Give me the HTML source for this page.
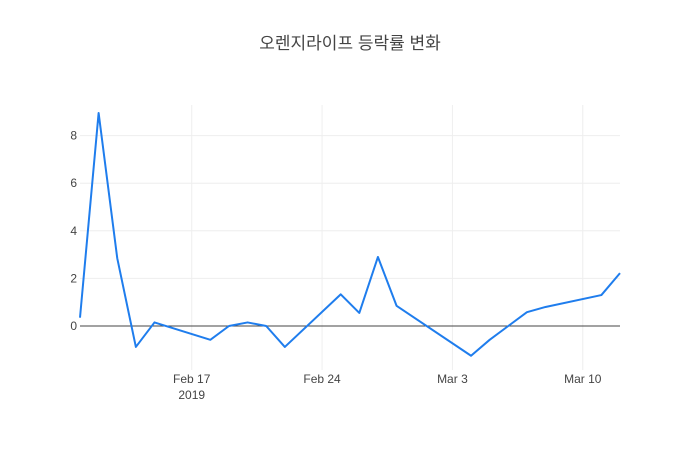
<!DOCTYPE html>
<html><head><meta charset="utf-8"><style>
body{margin:0;background:#fff;}
svg{display:block;font-family:"Liberation Sans","Noto Sans CJK KR",sans-serif;}
</style></head><body>
<svg id="chart" width="700" height="450">
<text x="350" y="49" text-anchor="middle" font-size="17" fill="#444">오렌지라이프 등락률 변화</text>
<g id="grid"></g><g id="axes"></g><g id="series"></g>
</svg>
<script>
const dates=["2019-02-11","2019-02-12","2019-02-13","2019-02-14","2019-02-15","2019-02-18","2019-02-19","2019-02-20","2019-02-21","2019-02-22","2019-02-25","2019-02-26","2019-02-27","2019-02-28","2019-03-04","2019-03-05","2019-03-06","2019-03-07","2019-03-08","2019-03-11","2019-03-12"];
const values=[0.35,8.95,2.85,-0.88,0.15,-0.58,0,0.15,0,-0.88,1.33,0.55,2.9,0.85,-1.25,-0.58,0,0.58,0.8,1.3,2.22];
const yTicks=[0,2,4,6,8];
const xTicks=["2019-02-17","2019-02-24","2019-03-03","2019-03-10"];
const xTickLabels=["Feb 17","Feb 24","Mar 3","Mar 10"];
const NS="http://www.w3.org/2000/svg";
const d0=Date.parse("2019-02-11"),d1=Date.parse("2019-03-12");
function xs(d){return 80+(Date.parse(d)-d0)/(d1-d0)*540;}
function ys(v){return 326-v*23.8;}
function mk(t,a,p){const e=document.createElementNS(NS,t);for(const k in a)e.setAttribute(k,a[k]);p.appendChild(e);return e;}
const grid=document.getElementById('grid'),axes=document.getElementById('axes'),series=document.getElementById('series');
yTicks.forEach(v=>{
 if(v!==0){const l=mk('line',{x1:80,x2:620,y1:ys(v),y2:ys(v),stroke:'#eee'},grid);
 
 }
 const t=mk('text',{x:77,y:ys(v)+4,'text-anchor':'end','font-size':12,fill:'#444'},axes);t.textContent=v;
 
 
});
xTicks.forEach((d,i)=>{
 const l=mk('line',{x1:xs(d),x2:xs(d),y1:105,y2:370,stroke:'#eee'},grid);
 
 
 const t=mk('text',{x:xs(d),y:383,'text-anchor':'middle','font-size':12,fill:'#444'},axes);t.textContent=xTickLabels[i];
 
 
});
const yr=mk('text',{x:xs(xTicks[0]),y:399,'text-anchor':'middle','font-size':12,fill:'#444'},axes);yr.textContent="2019";


const z=mk('line',{x1:80,x2:620,y1:ys(0),y2:ys(0),stroke:'#444','stroke-width':1},axes);


const p=mk('polyline',{points:dates.map((d,i)=>xs(d)+','+ys(values[i])).join(' '),fill:'none',stroke:'#1f7ded','stroke-width':2,'stroke-linejoin':'round'},series);


</script>
</body></html>
